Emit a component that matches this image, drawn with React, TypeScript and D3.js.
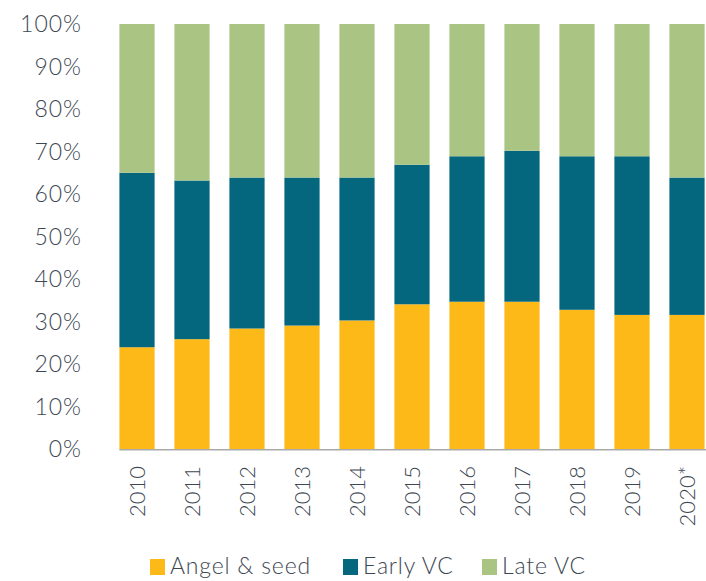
import React, { useEffect, useRef } from 'react';
import * as d3 from 'd3';

const years = ['2010', '2011', '2012', '2013', '2014', '2015', '2016', '2017', '2018', '2019', '2020*'];
const angelSeed = [24.0, 25.9, 28.4, 29.1, 30.3, 34.1, 34.7, 34.7, 32.8, 31.6, 31.6];
const earlyVC = [41.0, 37.3, 35.5, 34.8, 33.6, 32.8, 34.2, 35.5, 36.1, 37.3, 32.3];
const lateVC = [35.0, 36.8, 36.1, 36.1, 36.1, 33.1, 31.1, 29.8, 31.1, 31.1, 36.1];
const seriesNames = ['Angel & seed', 'Early VC', 'Late VC'];
const yTicks = [0, 10, 20, 30, 40, 50, 60, 70, 80, 90, 100];

const colors = ['#FDB918', '#05677E', '#AAC483'];
const textColor = '#3d4853';
const font = 'Lato, "Open Sans", sans-serif';

const App = () => {
  const svgRef = useRef<SVGSVGElement>(null);

  useEffect(() => {
    drawChart();
  }, []);

  const drawChart = () => {
    const width = 706;
    const height = 581;
    const svg = d3.select(svgRef.current)
      .attr('width', width)
      .attr('height', height);
    svg.selectAll('*').remove();

    const rows = years.map((year, i) => ({
      year,
      angel: angelSeed[i],
      early: earlyVC[i],
      late: lateVC[i],
    }));

    const stack = d3.stack<any>().keys(['angel', 'early', 'late']);
    const stacked = stack(rows);

    const x = d3.scaleBand()
      .domain(years)
      .range([109.5, 714.5])
      .paddingInner(0.36)
      .paddingOuter(0.18);

    const y = d3.scaleLinear()
      .domain([0, 100])
      .range([449.3, 24]);

    // bars
    svg.append('g')
      .selectAll('g')
      .data(stacked)
      .join('g')
      .attr('fill', (d, i) => colors[i])
      .selectAll('rect')
      .data(d => d)
      .join('rect')
      .attr('x', d => x(d.data.year)!)
      .attr('width', x.bandwidth())
      .attr('y', d => y(d[1]))
      .attr('height', d => y(d[0]) - y(d[1]));

    // baseline
    svg.append('line')
      .attr('x1', x(years[0])!)
      .attr('x2', width)
      .attr('y1', y(0) + 0.5)
      .attr('y2', y(0) + 0.5)
      .attr('stroke', '#a9a9a9')
      .attr('stroke-width', 1.5);

    // y labels
    svg.append('g')
      .selectAll('text')
      .data(yTicks)
      .join('text')
      .attr('x', 82)
      .attr('y', d => y(d))
      .attr('dy', '0.35em')
      .attr('text-anchor', 'end')
      .attr('font-family', font)
      .attr('font-weight', 300)
      .attr('font-size', 23)
      .attr('letter-spacing', 1)
      .attr('fill', textColor)
      .text(d => `${d}%`);

    // x labels
    svg.append('g')
      .selectAll('text')
      .data(years)
      .join('text')
      .attr('transform', d => `translate(${x(d)! + x.bandwidth() / 2}, 466) rotate(-90)`)
      .attr('dy', '0.35em')
      .attr('text-anchor', 'end')
      .attr('font-family', font)
      .attr('font-weight', 300)
      .attr('font-size', 22)
      .attr('fill', textColor)
      .text(d => d);

    // legend
    const legendX = [150, 343, 482];
    const legend = svg.append('g')
      .selectAll('g')
      .data(seriesNames)
      .join('g')
      .attr('transform', (d, i) => `translate(${legendX[i]}, 559)`);
    legend.append('rect')
      .attr('width', 15)
      .attr('height', 16)
      .attr('fill', (d, i) => colors[i]);
    legend.append('text')
      .attr('x', 20)
      .attr('y', 15)
      .attr('font-family', font)
      .attr('font-weight', 300)
      .attr('font-size', 23)
      .attr('letter-spacing', 0.8)
      .attr('fill', textColor)
      .text(d => d);
  };

  return (
    <div style={{ position: 'absolute', left: 0, top: 0 }}>
      <svg ref={svgRef} style={{ display: 'block' }}></svg>
    </div>
  );
};

export default App;
